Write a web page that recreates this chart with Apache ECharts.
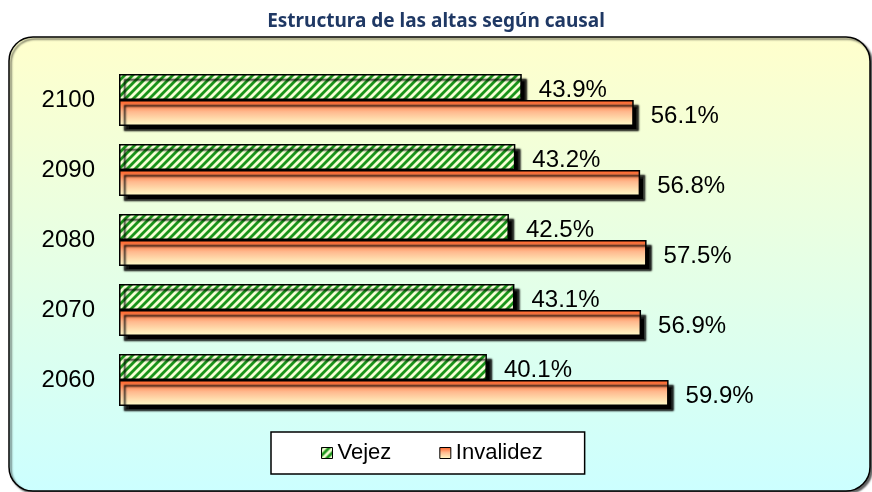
<!DOCTYPE html>
<html>
<head>
    <meta charset="utf-8">
    <title>Estructura de las altas</title>
    <script src="https://cdn.jsdelivr.net/npm/echarts@6/dist/echarts.min.js"></script>
    <style>
        html, body { margin: 0; padding: 0; background: #fff; }
        #chart { width: 872px; height: 492px; }
    </style>
</head>
<body>
    <div id="chart"></div>
    <script>
        var years = ['2060', '2070', '2080', '2090', '2100'];
        var vejez = [40.1, 43.1, 42.5, 43.2, 43.9];
        var invalidez = [59.9, 56.9, 57.5, 56.8, 56.1];

        // green diagonal hatch
        function hatch() {
            var c = document.createElement('canvas');
            c.width = 8; c.height = 8;
            var g = c.getContext('2d');
            g.fillStyle = '#f6ffd6';
            g.fillRect(0, 0, 8, 8);
            g.strokeStyle = '#1a931a';
            g.lineWidth = 2.8;
            for (var k = -8; k <= 16; k += 8) {
                g.beginPath();
                g.moveTo(k - 1, 9);
                g.lineTo(k + 9, -1);
                g.stroke();
            }
            return c;
        }

        var orange = new echarts.graphic.LinearGradient(0, 0, 0, 1, [
            { offset: 0, color: '#ff5a1e' },
            { offset: 0.45, color: '#ffb98e' },
            { offset: 1, color: '#ffffcc' }
        ]);
        var green = { image: hatch(), repeat: 'repeat' };

        var chart = echarts.init(document.getElementById('chart'));

        var labelStyle = {
            show: true,
            position: 'right',
            distance: 17,
            offset: [0, 3],
            color: '#000',
            fontSize: 24,
            fontFamily: 'Liberation Sans, Arial, sans-serif',
            formatter: function (p) { return p.value.toFixed(1) + '%'; }
        };

        var barStyle = {
            borderColor: '#000',
            borderWidth: 1.5,
            shadowColor: '#000',
            shadowOffsetX: 5,
            shadowOffsetY: 5,
            shadowBlur: 2
        };

        chart.setOption({
            animation: false,
            title: {
                text: 'Estructura de las altas según causal',
                left: 'center',
                top: 7,
                textStyle: { color: '#1f3864', fontSize: 19, fontWeight: 'bold', fontFamily: 'Noto Sans' }
            },
            graphic: [{
                type: 'rect',
                z: -10,
                shape: { x: 9, y: 37, width: 861, height: 454, r: 24 },
                style: {
                    fill: new echarts.graphic.LinearGradient(0, 0, 0, 1, [
                        { offset: 0, color: '#ffffcc' },
                        { offset: 1, color: '#ccffff' }
                    ]),
                    stroke: '#000',
                    lineWidth: 1.5,
                    shadowColor: 'rgba(0,0,0,0.6)',
                    shadowOffsetX: 2,
                    shadowOffsetY: 2,
                    shadowBlur: 2
                }
            }],
            legend: {
                left: 271,
                top: 432,
                data: [
                    { name: 'Vejez', icon: 'rect', itemStyle: { color: green, borderColor: '#000', borderWidth: 1, shadowBlur: 0, shadowOffsetX: 0, shadowOffsetY: 0 } },
                    { name: 'Invalidez', icon: 'rect', itemStyle: { color: orange, borderColor: '#000', borderWidth: 1, shadowBlur: 0, shadowOffsetX: 0, shadowOffsetY: 0 } }
                ],
                itemWidth: 11,
                itemHeight: 11,
                itemGap: 48,
                padding: [10, 42, 10, 50],
                backgroundColor: '#fff',
                borderColor: '#000',
                borderWidth: 1.5,
                borderRadius: 0,
                textStyle: { color: '#000', fontSize: 22, fontFamily: 'Liberation Sans, Arial, sans-serif' }
            },
            grid: { left: 119, right: 19, top: 65, bottom: 77 },
            xAxis: {
                type: 'value',
                min: 0,
                max: 80,
                show: false
            },
            yAxis: {
                type: 'category',
                data: years,
                axisLine: { show: false },
                axisTick: { show: false },
                axisLabel: { color: '#000', fontSize: 24, fontFamily: 'Liberation Sans, Arial, sans-serif', margin: 24 }
            },
            series: [{
                name: 'Vejez',
                type: 'bar',
                data: vejez,
                barWidth: 26,
                barGap: '0%',
                itemStyle: Object.assign({ color: green }, barStyle),
                label: labelStyle
            }, {
                name: 'Invalidez',
                type: 'bar',
                data: invalidez,
                barWidth: 26,
                barGap: '0%',
                itemStyle: Object.assign({ color: orange }, barStyle),
                label: labelStyle
            }]
        });
    </script>
</body>
</html>
